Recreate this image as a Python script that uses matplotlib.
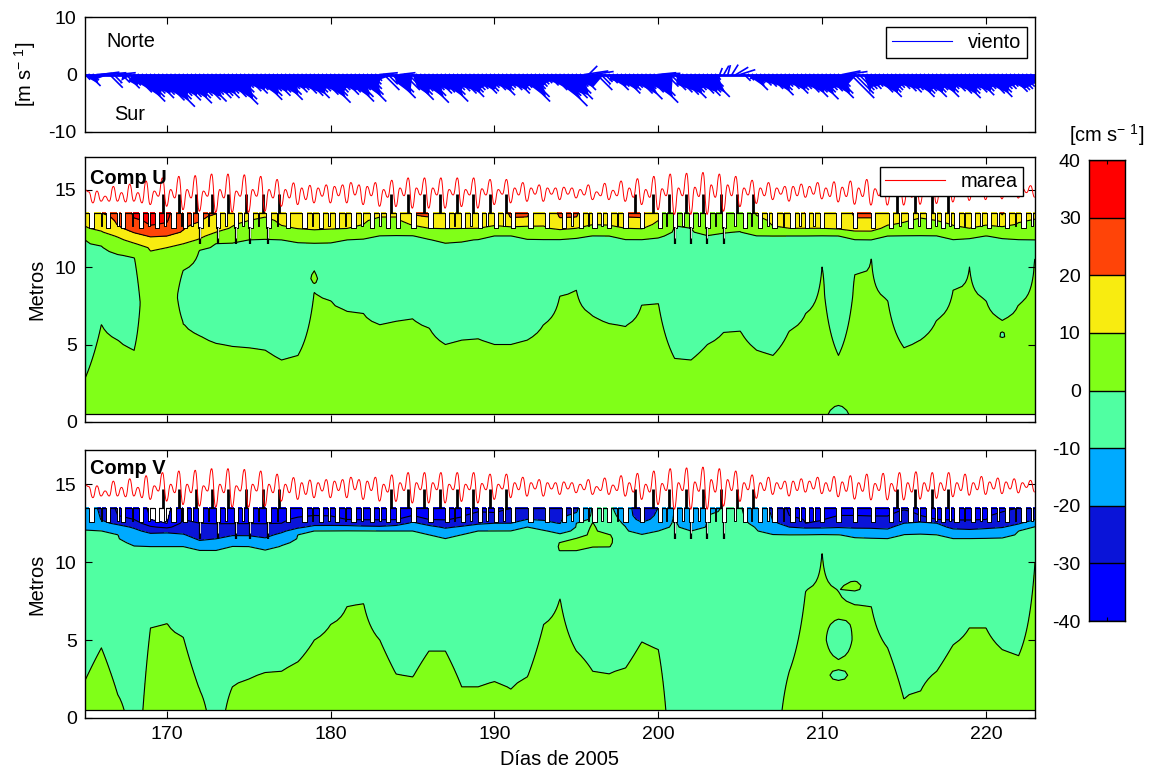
import numpy as np
import matplotlib
matplotlib.use("Agg")
import matplotlib.pyplot as plt
from matplotlib.colors import ListedColormap, BoundaryNorm
from matplotlib.path import Path
from matplotlib.patches import PathPatch

plt.rcParams['font.family'] = ['Liberation Sans', 'DejaVu Sans']
plt.rcParams['mathtext.default'] = 'regular'
plt.rcParams['axes.unicode_minus'] = False

dias = np.arange(165, 224)
niveles = [-40, -30, -20, -10, 0, 10, 20, 30, 40]
colores = ['#0000ff', '#0a14d8', '#00aaff', '#50ffa2', '#80ff18', '#f8ec10', '#ff4408', '#ff0000']

# viento, 4 palos por dia desde el dia 165
viento_v = [-0.8,-1.9,-0.9,0.2, 0.4,0.3,-2.2,-1.4, 0.3,-1.3,-2.3,-1.8, -3.0,-4.6,-3.8,-3.2,
    -4.0,-3.4,-4.4,-5.5, -4.2,-3.6,-4.4,-3.8, -4.9,-4.0,-3.6,-4.3, -4.6,-3.4,-4.0,-3.6,
    -4.0,-3.2,-3.8,-5.1, -4.2,-3.0,-2.2,-2.8, -3.2,-2.6,-4.3,-3.6, -2.8,-3.6,-3.0,-4.3,
    -3.4,-2.4,-3.0,-2.6, -3.2,-3.6,-4.0,-3.0, -2.8,-3.4,-4.8,-3.6, -3.0,-2.6,-3.4,-3.0,
    -4.6,-3.8,-2.6,-4.6, -3.4,-2.4,-1.6,-1.0, 0.3,-2.6,-1.6,-4.0, -3.0,0.3,-2.6,-4.3,
    -3.4,-2.8,-4.8,-3.6, -2.6,-3.2,-3.0,-4.6, -3.4,-2.6,-2.8,-3.2, -3.8,-3.0,-2.6,-2.4,
    -3.2,-2.8,-2.2,-2.6, -3.5,-2.6,-2.2,-2.6, -3.2,-2.6,-2.2,-4.6, -3.8,-2.4,-2.0,-1.6,
    -1.4,-1.8,-2.6,-5.4, -3.6,-4.0,-4.2,-3.2, -2.0,-2.6,0.6,1.4, 0.5,-2.6,-1.6,-1.2,
    -1.4,-2.6,-2.0,-3.2, -2.6,-2.2,-3.2,-4.2, -2.4,-3.0,-4.8,-3.6, 0.3,0.2,-2.0,-2.6,
    -3.0,-3.4,-4.0,-3.0, -2.6,-3.2,-3.6,-3.0, -3.8,-2.0,-0.8,1.0, 1.4,1.5,1.6,1.2,
    0.8,-1.0,-0.9,-2.6, -1.4,-1.8,-2.0,-2.4, -3.5,-2.6,-2.0,-2.4, -3.2,-2.6,-2.4,-3.0,
    -3.8,-3.0,-4.2,-3.0, -2.6,-2.8,-4.0,-3.2, -2.0,0.6,0.5,-4.0, -3.2,-2.6,-2.4,-2.4,
    -2.0,-3.0,-3.8,-3.0, -2.6,-2.2,-2.4,-2.8, -3.0,-2.6,-3.8,-3.2, -2.8,-3.8,-3.0,-2.6,
    -3.8,-3.0,-2.4,-2.8, -3.2,-4.0,-3.2,-2.6, -3.0,-3.5,-2.8,-2.4, -3.2,-3.8,-3.0,-2.4,
    -2.4,-2.0,-2.9,-2.6, -2.4,-2.0,-1.8,-1.6]
viento_u = [0.8,1.9,0.9,2.5, 3.0,3.5,2.2,1.4, 3.0,1.3,2.3,1.8, 3.0,4.6,3.8,3.2,
    4.0,3.4,4.4,5.5, 4.2,3.6,4.4,3.8, 4.9,4.0,3.6,4.3, 4.6,3.4,4.0,3.6,
    4.0,3.2,3.8,5.1, 4.2,3.0,2.2,2.8, 3.2,2.6,4.3,3.6, 2.8,3.6,3.0,4.3,
    3.4,2.4,3.0,2.6, 3.2,3.6,4.0,3.0, 2.8,3.4,4.8,3.6, 3.0,2.6,3.4,3.0,
    4.6,3.8,2.6,4.6, 3.4,2.4,1.6,1.0, 3.0,2.6,1.6,4.0, 3.0,2.5,2.6,4.3,
    3.4,2.8,4.8,3.6, 2.6,3.2,3.0,4.6, 3.4,2.6,2.8,3.2, 3.8,3.0,2.6,2.4,
    3.2,2.8,2.2,2.6, 3.5,2.6,2.2,2.6, 3.2,2.6,2.2,4.6, 3.8,2.4,2.0,1.6,
    1.4,1.8,2.6,5.4, 3.6,4.0,4.2,3.2, 2.0,2.6,4.0,1.4, 3.5,2.6,1.6,1.2,
    1.4,2.6,2.0,3.2, 2.6,2.2,3.2,4.2, 2.4,3.0,4.8,3.6, 3.0,3.0,2.0,2.6,
    3.0,3.4,4.0,3.0, 2.6,3.2,3.6,3.0, 3.8,2.0,0.8,0.4, 0.8,0.4,1.0,2.0,
    2.5,1.0,0.9,2.6, 1.4,1.8,2.0,2.4, 3.5,2.6,2.0,2.4, 3.2,2.6,2.4,3.0,
    3.8,3.0,4.2,3.0, 2.6,2.8,4.0,3.2, 2.0,3.0,3.5,4.0, 3.2,2.6,2.4,2.4,
    2.0,3.0,3.8,3.0, 2.6,2.2,2.4,2.8, 3.0,2.6,3.8,3.2, 2.8,3.8,3.0,2.6,
    3.8,3.0,2.4,2.8, 3.2,4.0,3.2,2.6, 3.0,3.5,2.8,2.4, 3.2,3.8,3.0,2.4,
    2.4,2.0,2.9,2.6, 2.4,2.0,1.8,1.6]

# extremos de marea, 4 por dia
marea = [15.0,14.85,14.14,14.9, 14.25,14.57,14.25,15.2, 14.25,14.8,14.2,15.35, 14.25,14.8,14.14,15.55,
    14.03,14.9,14.57,15.75, 13.92,15.0,14.46,15.85, 13.7,15.0,14.46,15.9, 13.6,14.9,14.57,16.0,
    13.53,15.0,14.46,16.0, 13.53,14.9,14.57,15.95, 13.53,15.0,14.57,15.85, 13.6,15.0,14.46,15.65,
    13.92,15.0,14.46,15.43, 14.03,15.1,14.35,15.27, 14.14,15.1,14.57,15.3, 14.14,15.2,14.6,15.3,
    14.14,15.45,14.65,15.3, 14.03,15.2,14.6,15.45, 13.92,15.0,14.5,15.6, 13.9,15.1,14.6,15.75,
    13.8,15.1,14.65,15.75, 13.8,15.1,14.65,15.75, 13.8,15.0,14.65,15.75, 13.9,15.0,14.65,15.75,
    13.8,15.05,14.65,15.65, 14.03,15.0,14.7,15.65, 14.14,15.1,14.65,15.45, 14.24,15.1,14.7,15.3,
    14.24,15.1,14.7,15.1, 14.35,15.15,14.7,15.1, 14.46,15.0,14.65,15.3, 14.35,14.85,14.6,15.4,
    14.35,14.95,14.6,15.55, 14.24,15.1,14.5,15.7, 14.03,15.0,14.5,15.85, 13.7,15.05,14.6,16.0,
    13.4,15.1,14.6,16.05, 13.4,15.15,14.55,16.1, 13.4,15.3,14.5,16.0, 13.6,15.3,14.6,15.85,
    13.9,15.1,14.65,15.6, 14.1,15.1,14.6,15.45, 14.35,15.1,14.7,15.2, 14.25,15.2,14.6,15.35,
    14.5,15.2,14.7,15.45, 14.4,15.1,14.55,15.5, 14.2,15.15,14.55,15.55, 14.05,15.1,14.55,15.65,
    14.0,15.05,14.6,15.7, 14.0,15.05,14.55,15.75, 14.0,15.1,14.5,15.8, 14.05,15.1,14.55,15.75,
    14.1,15.1,14.6,15.75, 14.2,15.1,14.6,15.65, 14.3,15.1,14.65,15.5, 14.35,15.15,14.7,15.4,
    14.4,15.15,14.7,15.35, 14.45,15.1,14.8,15.25, 14.5]

# alturas de los contornos por dia, 14 = no aparece, 0 = sin capa
u_cero_bajo = [2.8,6.3,5.3,4.65,0,0,6.4,5.6,5.1,4.9,4.8,4.65,4.0,4.3,8.45,7.9,7.2,7.0,6.3,6.5,6.7,6.1,5.0,5.3,5.4,5.0,5.0,5.3,6.3,8.2,
    8.5,6.9,6.4,6.2,7.6,7.7,4.1,4.0,5.0,5.8,5.9,4.65,4.3,5.9,7.0,10,4.3,9.5,10.6,7.9,4.8,5.3,6.6,8.5,10,7.9,6.6,7.6,10.6]
u_cero_alto = [11.75,11.45,10.9,10.7,0,0,9.8,11.2,11.55,11.65,11.75,11.87,11.75,11.7,11.6,11.65,11.75,11.9,12.05,12.1,12.1,11.9,11.65,11.72,11.85,12.05,12.05,11.9,11.85,11.83,
    11.95,12.05,12,11.85,11.82,11.95,12.7,12.5,12.1,12.2,12.3,12.05,12,12.03,12.03,12.05,12.05,11.8,11.75,12,12.1,12.1,12.05,11.8,11.9,12.03,11.95,11.8,11.75]
u_10 = [12.55,12.3,11.95,11.55,11.2,11.25,11.5,11.8,12.25,12.55,13,13.2,12.6,12.4,12.3,12.35,12.45,12.75,13.2,13.2,12.7,12.5,12.4,12.45,12.5,12.56,12.6,12.65,12.55,12.4,
    12.5,12.7,12.6,12.5,12.47,13,14,14,13.3,14,14,13.3,12.55,12.5,12.5,12.5,12.3,12.3,12.3,12.6,12.8,13.1,13,12.6,12.5,12.6,12.6,12.8,13.05]
u_20 = [14,13.5,12.6,12.2,11.95,12,12.3,12.85,13.4] + [14]*11 + [13.3,13.2] + [14]*4 + [13.1,13.2,14,13.1,13.2,14,14,13.2,13.1] + [14]*9 + [13.4,14,14,13.1,13.1] + [14]*7 + [13.3,14,14]
u_30 = [14]*3 + [13.1,12.6,12.8] + [14]*53

v_cero = [2.4,4.5,1.5,0,5.8,6.1,5.2,1.8,0,2.0,2.5,2.9,3.0,3.6,5.0,6.0,7.2,7.4,5.0,2.8,2.6,4.3,4.3,2.0,2.0,2.3,1.8,2.6,6.0,7.7,
    4.3,3.0,2.8,3.2,4.9,4.4,0,0,0,0,0,0,0,3,8.2,10.7,8.2,7.3,7.2,4.5,1.2,1.7,3.0,4.7,5.8,5.8,4.4,4.0,10]
v_10 = [12.1,12.05,11.85,11.2,11,11,11,10.8,10.8,11.1,11,10.9,11.2,11.8,12.05,12.1,12.15,12.1,12,12,12,11.8,11.6,11.85,12,12.05,12.1,12.3,12.2,11.95,
    12.5,14,14,12.3,11.9,12,14,12,13,14,14,12.2,11.95,11.8,11.8,11.8,11.8,11.7,11.65,11.6,11.9,11.95,11.8,11.6,11.6,11.65,11.7,12,12.4]
v_20 = [14,12.6,12.4,12.2,11.9,11.95,11.8,11.35,11.5,11.7,11.7,11.55,11.9,12.15,12.3,12.3,12.3,12.3,12.3,12.4,12.6,12.4,12.2,12.3,12.4,12.5,12.5,12.75,12.55,12.4,
    13.1,14,14,14,12.6,13.5,14,13.2,14,14,14,14,12.6,12.25,12.2,12.2,12.2,12.15,12.15,12.1,12.5,12.6,12.5,12.15,12.1,12.15,12.2,12.4,12.6]
v_30 = [14,14,13,12.7,12.3,12.2,12.7,12.5,12.4,12.4,12.4,12.4,12.5,12.8,13,12.9,12.7,12.6,12.6,12.6,13,12.7,12.6,12.8,13.2,13.1,13.4,14,14,14,
    14,14,14,14,12.9,14,14,14,14,14,14,14,14,13,12.5,12.55,13,13,12.9,12.9,13.3,13,12.7,12.6,12.6,12.7,13.2,13.5,14]
v_40 = [14]*4 + [12.7,12.45] + [14]*53

# islas: dia, altura central, semialtura, valor
u_islas = [(179,9.3,0.45,1.0), (211,0.5,0.6,-8.0), (221,5.6,0.25,-0.4)]
v_islas = [(194,11.0,0.4,1.0), (195,11.2,0.5,3.0), (196,11.7,0.85,5.0), (197,11.4,0.5,3.0),
    (211,5.05,1.3,-8.0), (211,2.75,0.5,-4.0), (212,8.45,0.4,2.0)]

# peine de la superficie
muesca_dias = [165.4,166.4,167.3,168.4,169.4,170.4,171.1,172.05,173.1,174.2,175.1,176.2,177.4,178.4,179.4,180.4,181.4,182.5,183.5,184.1,
    185.05,186.1,187.1,188.1,189.1,190.1,191.15,192.2,193.2,194.25,195.3,196.1,197,198,199,200.1,201,202,203,204,
    205.3,206.2,207.1,208.2,209.1,210,211,212,213.1,214.2,215.4,216.5,217.4,218.2,219.2,220.2,221.3,222.3]
estrecha_dias = [166,167,167.9,168.9,169.9,170.9,171.55,172.55,173.6,174.65,175.6,176.75,178.9,179.9,180.9,181.9,183,
    187.55,188.55,189.55,190.6,194.75,195.75,196.55,197.5,200.5,201.5,202.5,203.5,204.7,
    205.7,206.7,207.65,208.65,209.5,214.75,215.9,216.95,217.8,218.7,219.7,220.75,221.8,222.8]
profunda_dias = [172.05,173.1,174.2,175.1,176.2,201,202,203,204]
punta_dias = [169.75,170.75,171.75,172.75,173.75,174.8,175.85,176.85,183.7,184.7,185.7,186.7,187.7,188.7,189.7,190.7,
    198.6,199.65,200.65,201.7,202.7,203.8,204.8,205.8,214.6,215.7,216.7,217.7]


def caja(x0, y0, x1, y1):
    return fig.add_axes([x0/1151, 1-y1/773, (x1-x0)/1151, (y1-y0)/773])


def columna_u(h, t, c10, c20, c30):
    zk, vk = [0.], [5.]
    if t > h > 0:
        zk += [h, (h+t)/2, t]
        vk += [0., -5., 0.]
    for c, n in ((c10, 10.), (c20, 20.), (c30, 30.)):
        if c < 14:
            zk.append(c)
            vk.append(n)
    zk.append(14.5)
    vk.append(vk[-1]+5)
    return np.interp(alturas, zk, vk)


def columna_v(h, c10, c20, c30, c40):
    zk, vk = [0.], [-5.]
    if h > 0:
        vk = [5.]
        zk += [h]
        vk += [0.]
        tope = c10 if c10 < 14 else 14.
        zk.append((h+tope)/2)
        vk.append(-5.)
    for c, n in ((c10, -10.), (c20, -20.), (c30, -30.), (c40, -40.)):
        if c < 14:
            zk.append(c)
            vk.append(n)
    zk.append(14.5)
    vk.append(vk[-1]-5)
    return np.interp(alturas, zk, vk)


def pon_islas(campo, islas):
    for d, zc, hw, val in islas:
        dist = np.abs(alturas-zc)
        m = dist < hw
        campo[m, d-165] = val*(1-dist[m]/hw)


def peine(ax):
    ax.hlines(13.5, 165, 223, colors='k', lw=0.9, zorder=2)
    ax.hlines(0.5, 165, 223, colors='k', lw=0.9, zorder=2)
    for dd, w, fondo in ((muesca_dias, 0.26, 12.55), (estrecha_dias, 0.1, 12.65)):
        ax.bar(dd, 13.6-fondo, bottom=fondo, width=w, color='w', zorder=3)
        for d in dd:
            ax.plot([d-w/2, d-w/2, d+w/2, d+w/2], [13.5, fondo, fondo, 13.5], 'k-', lw=0.7, zorder=4)
    ax.vlines(punta_dias, 13.5, 14.7, colors='k', lw=2.0, zorder=4)
    ax.vlines(profunda_dias, 11.5, 12.6, colors='k', lw=1.6, zorder=4)
    ax.vlines(profunda_dias, 11.9, 12.6, colors='w', lw=0.6, zorder=4)


def linea_marea(ax):
    t = 165-0.02+0.25*np.arange(len(marea))
    verts = [(t[0], marea[0])]
    for i in range(1, len(t)):
        tm = (t[i-1]+t[i])/2
        verts += [(tm, marea[i-1]), (tm, marea[i]), (t[i], marea[i])]
    codes = [Path.MOVETO]+[Path.CURVE4]*(len(verts)-1)
    ax.add_patch(PathPatch(Path(verts, codes), fc='none', ec='r', lw=0.7, zorder=6))


def formato(ax):
    ax.set_xlim(165, 223)
    ax.set_xticks(range(170, 221, 10))
    ax.tick_params(direction='in', top=True, right=True, length=5, width=0.8, labelsize=14, pad=6)
    for s in ax.spines.values():
        s.set_linewidth(1.0)
        s.set_zorder(10)


fig = plt.figure(figsize=(11.51, 7.73), dpi=100)
cmap = ListedColormap(colores)
norm = BoundaryNorm(niveles, cmap.N)
alturas = np.arange(0.5, 13.51, 0.25)

# panel de viento
ax1 = caja(85, 17, 1035, 132)
t_v = 165+0.25*np.arange(len(viento_v))
u_v, v_v = np.array(viento_u), np.array(viento_v)
# masa solida cerca de la linea base, las puntas quedan sueltas
ax1.fill(np.r_[165, t_v+u_v*0.35*0.85, 223], np.r_[0, np.minimum(v_v, 0)*0.85, 0], color='#0000ff', lw=0)
[ax1.plot([t_v[i], t_v[i]+viento_u[i]*0.35], [0, viento_v[i]], '-', color='#0000ff', lw=1.2)
    for i in range(len(t_v))]
ax1.hlines(0, 165, 223, colors='#0000ff', lw=2)
ax1.plot([], [], '-', color='#0000ff', lw=0.8, label='viento')   # dummy para la leyenda
ax1.set_ylim(-10, 10)
ax1.set_yticks([-10, 0, 10])
formato(ax1)
ax1.set_xticklabels([])
ax1.set_ylabel('[m s$^{-\\ 1}$]', fontsize=14.4)
ax1.yaxis.set_label_coords(-0.049, 0.5)
ax1.text(166.3, 5.7, 'Norte', fontsize=14.4, va='center')
ax1.text(166.8, -7.0, 'Sur', fontsize=14.4, va='center')
ax1.legend(loc='upper right', bbox_to_anchor=(0.9916, 0.915), fontsize=14.4, fancybox=False, framealpha=1,
    edgecolor='k', handlelength=3.0, borderaxespad=0, borderpad=0.3)

# componente U
U = np.array([columna_u(*c) for c in zip(u_cero_bajo, u_cero_alto, u_10, u_20, u_30)]).T
pon_islas(U, u_islas)
ax2 = caja(85, 157, 1035, 422)
ax2.contourf(dias, alturas, U, levels=niveles, cmap=cmap, norm=norm)
ax2.contour(dias, alturas, U, levels=niveles, colors='k', linewidths=0.8, negative_linestyles='solid')
peine(ax2)
linea_marea(ax2)
ax2.plot([], [], 'r-', lw=0.8, label='marea')   # dummy para la leyenda
ax2.set_ylim(0, 17.1)
ax2.set_yticks([0, 5, 10, 15])
formato(ax2)
ax2.set_xticklabels([])
ax2.set_ylabel('Metros', fontsize=14.4)
ax2.yaxis.set_label_coords(-0.041, 0.5)
ax2.text(165.3, 15.7, 'Comp U', fontsize=14.4, fontweight='bold', va='center', zorder=7)
leg = ax2.legend(loc='upper right', bbox_to_anchor=(0.9874, 0.962), fontsize=14.4, fancybox=False, framealpha=1,
    edgecolor='k', handlelength=3.0, borderaxespad=0, borderpad=0.25)
leg.set_zorder(8)

# componente V
V = np.array([columna_v(*c) for c in zip(v_cero, v_10, v_20, v_30, v_40)]).T
pon_islas(V, v_islas)
ax3 = caja(85, 450, 1035, 718)
ax3.contourf(dias, alturas, V, levels=niveles, cmap=cmap, norm=norm)
ax3.contour(dias, alturas, V, levels=niveles, colors='k', linewidths=0.8, negative_linestyles='solid')
peine(ax3)
linea_marea(ax3)
ax3.set_ylim(0, 17.2)
ax3.set_yticks([0, 5, 10, 15])
formato(ax3)
ax3.set_ylabel('Metros', fontsize=14.4)
ax3.yaxis.set_label_coords(-0.041, 0.5)
ax3.set_xlabel('Días de 2005', fontsize=14.4, labelpad=5)
ax3.text(165.3, 16.0, 'Comp V', fontsize=14.4, fontweight='bold', va='center', zorder=7)

# barra de color
cax = caja(1089, 160, 1125, 621)
cax.pcolormesh([0, 1], niveles, np.array(niveles[:-1]).reshape(-1, 1)+5, cmap=cmap, norm=norm)
cax.hlines(niveles, 0, 1, colors='k', lw=1.0)
cax.set_xlim(0, 1)
cax.set_ylim(-40, 40)
cax.set_xticks([0.5])
cax.set_xticklabels([])
cax.set_yticks(niveles)
cax.tick_params(axis='y', length=0, labelsize=14, pad=6)
cax.tick_params(axis='x', direction='in', top=True, length=3, width=0.8)
cax.set_title('[cm s$^{-\\ 1}$]', fontsize=14.4, pad=13)
for s in cax.spines.values():
    s.set_linewidth(1.0)

fig.savefig('out.png', dpi=100)
